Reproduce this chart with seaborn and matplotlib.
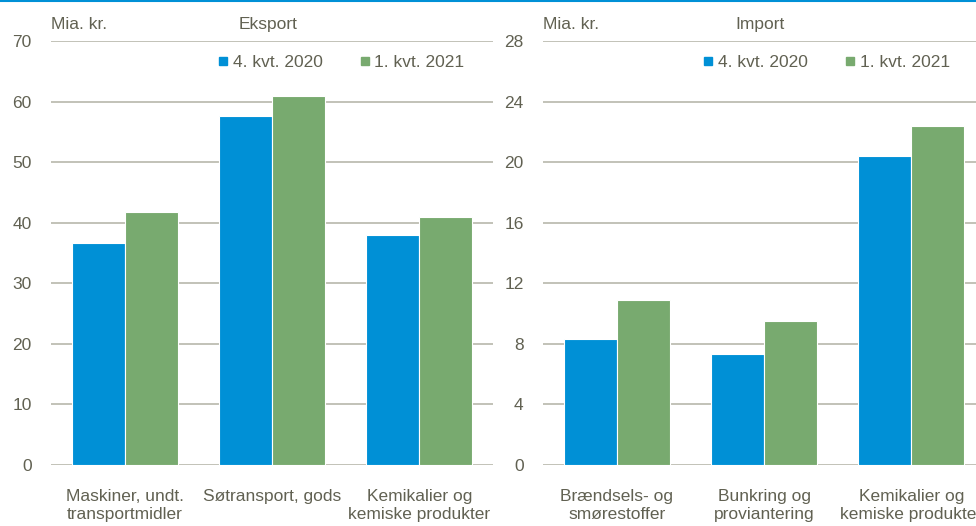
import pandas as pd
import seaborn as sns
import matplotlib.pyplot as plt
from matplotlib.lines import Line2D

# data (Mia. kr.)
periods = ["4. kvt. 2020", "1. kvt. 2021"]
eksport_cats = ["Maskiner, undt.\ntransportmidler", "Søtransport, gods", "Kemikalier og\nkemiske produkter"]
eksport_q4_2020 = [36.6, 57.7, 37.9]
eksport_q1_2021 = [41.7, 61.0, 41.0]

import_cats = ["Brændsels- og\nsmørestoffer", "Bunkring og\nproviantering", "Kemikalier og\nkemiske produkter"]
import_q4_2020 = [8.3, 7.3, 20.4]
import_q1_2021 = [10.9, 9.5, 22.4]

blue = "#0090D6"
green = "#78AA6F"
txt = "#616152"
grid = "#BDBDB2"

sns.set_style("white")
plt.rcParams["font.family"] = ["Liberation Sans", "DejaVu Sans"]
plt.rcParams["font.size"] = 12.5


def long_df(cats, a, b):
    return pd.DataFrame({
        "cat": cats * 2,
        "period": [periods[0]] * len(cats) + [periods[1]] * len(cats),
        "value": a + b,
    })


fig = plt.figure(figsize=(9.76, 5.26), dpi=100)
ax1 = fig.add_axes([0.0523, 0.116, 0.4529, 0.806])
ax2 = fig.add_axes([0.5564, 0.116, 0.4529, 0.806])

panels = [
    (ax1, long_df(eksport_cats, eksport_q4_2020, eksport_q1_2021), "Eksport", 70, 10, 0.350),
    (ax2, long_df(import_cats, import_q4_2020, import_q1_2021), "Import", 28, 4, 0.847),
]

for ax, df, title, ymax, step, legx in panels:
    sns.barplot(data=df, x="cat", y="value", hue="period", hue_order=periods,
                palette=[blue, green], saturation=1, width=0.72, edgecolor="white",
                linewidth=0.8, ax=ax, legend=False)
    ax.set_ylim(0, ymax)
    ax.set_yticks(range(0, ymax + 1, step))
    ax.set_xlim(-0.5, 2.5)
    for y in range(0, ymax + 1, step):
        ax.axhline(y, color=grid, lw=1.3, zorder=0)
    ax.set_axisbelow(True)
    sns.despine(ax=ax, left=True, bottom=True)
    ax.tick_params(axis="y", length=0, pad=14, labelcolor=txt, labelsize=12.5)
    ax.tick_params(axis="x", length=0, pad=17, labelcolor=txt, labelsize=12.5)
    for lab in ax.get_xticklabels():
        lab.set_linespacing(1.3)
    ax.set_xlabel("")
    ax.set_ylabel("")
    ax.text(0.0, 1.04, "Mia. kr.", transform=ax.transAxes, ha="left", va="center",
            color=txt, fontsize=12.5)
    ax.text(0.49, 1.04, title, transform=ax.transAxes, ha="center", va="center",
            color=txt, fontsize=12.5)
    handles = [Line2D([], [], marker="s", ls="", color=c, markersize=6) for c in (blue, green)]
    ax.legend(handles, periods, loc="center", bbox_to_anchor=(legx, 0.882),
              bbox_transform=fig.transFigure, ncol=2, frameon=False,
              handlelength=0.5, handletextpad=0.3, columnspacing=2.2,
              labelcolor=txt, fontsize=12.5)

fig.add_artist(Line2D([0, 1], [0.998, 0.998], transform=fig.transFigure, color=blue, lw=1.5))

fig.savefig("out.png", dpi=100)
